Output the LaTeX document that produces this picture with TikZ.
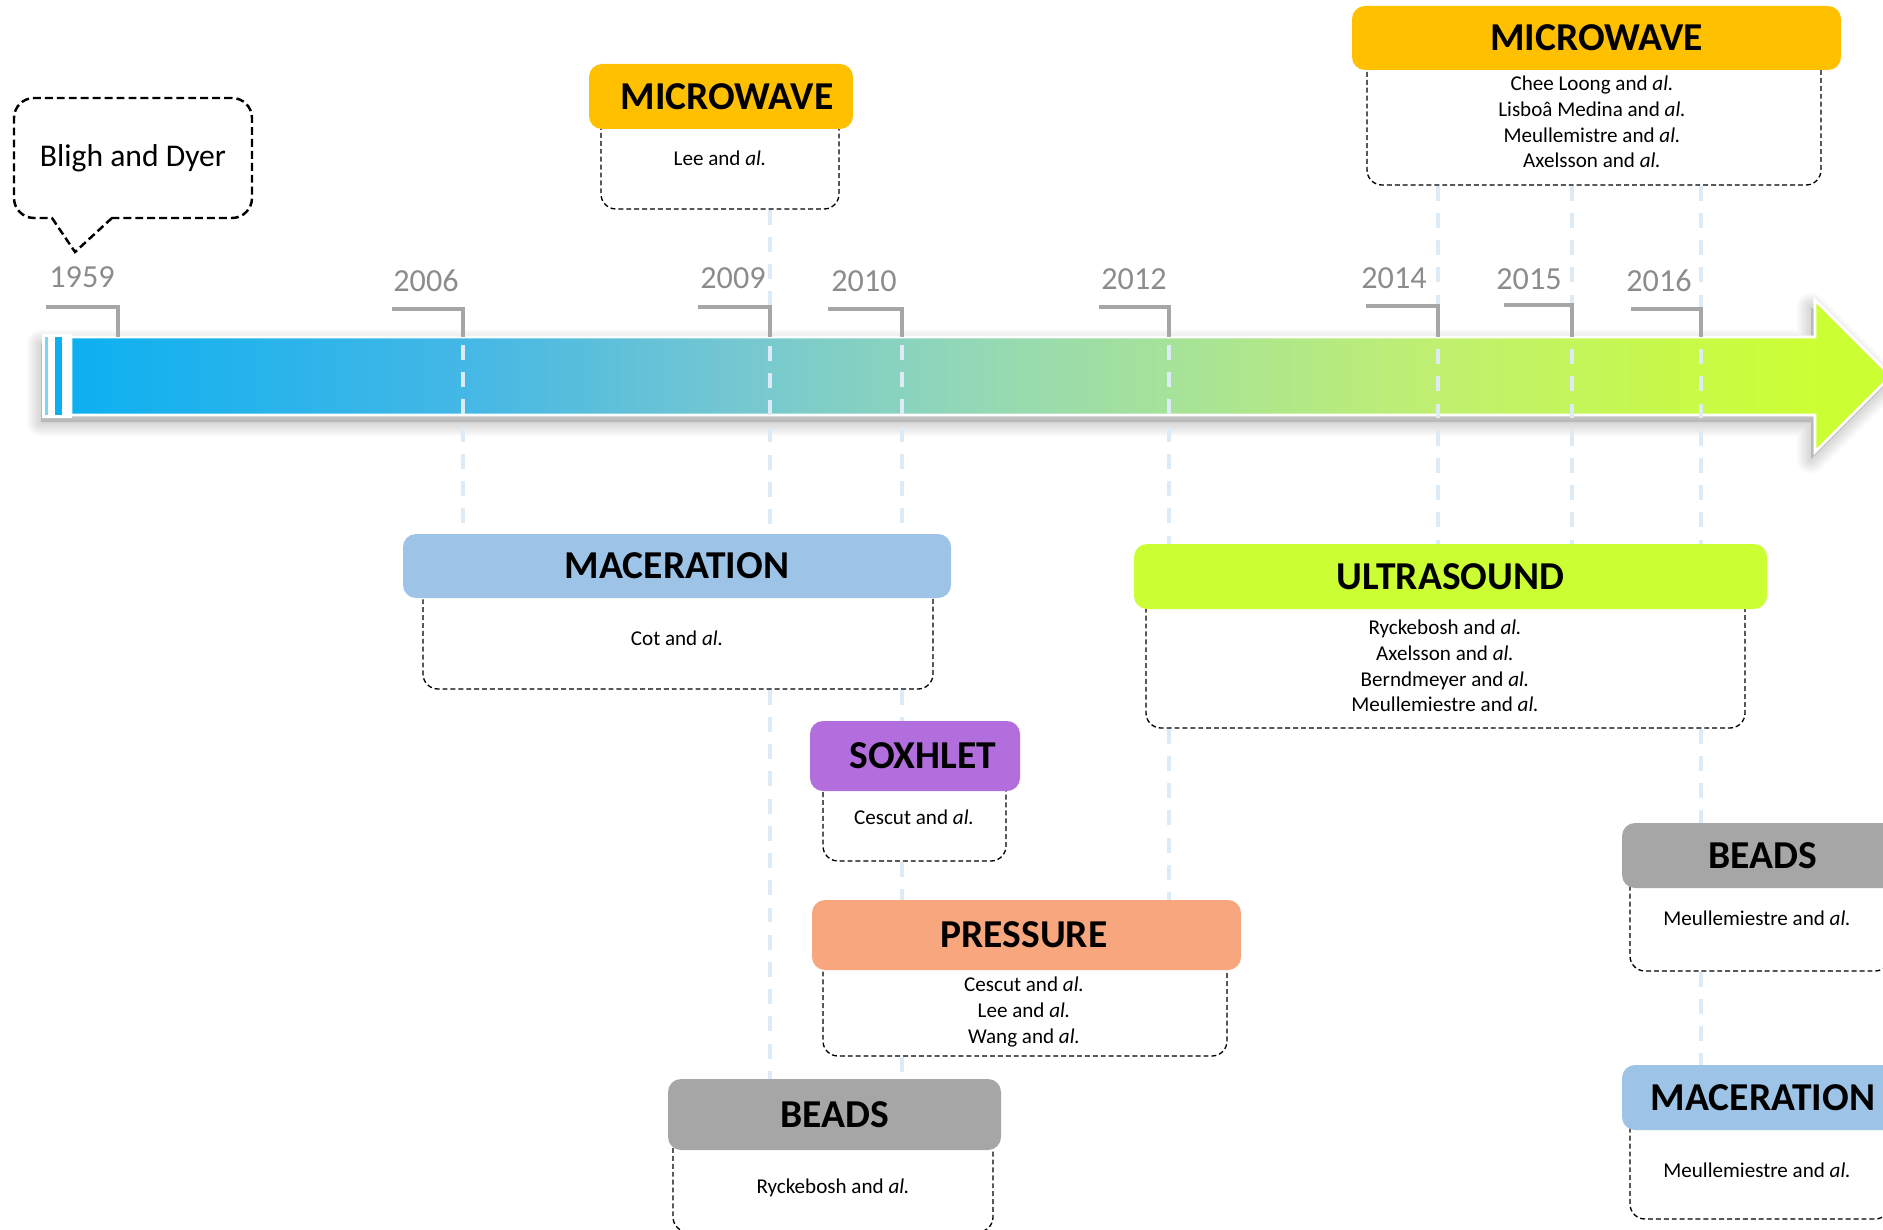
\documentclass[tikz,border=0pt]{standalone}
\usepackage{fontspec}
\setmainfont{Carlito}
\usetikzlibrary{fit}

\definecolor{mwCol}{RGB}{255,192,0}
\definecolor{macCol}{RGB}{157,195,230}
\definecolor{ultraCol}{RGB}{204,255,51}
\definecolor{soxCol}{RGB}{178,110,220}
\definecolor{pressCol}{RGB}{248,166,126}
\definecolor{beadCol}{RGB}{166,166,166}
\definecolor{guideCol}{RGB}{221,235,247}
\definecolor{tickCol}{RGB}{166,166,166}
\definecolor{yearCol}{RGB}{140,140,140}
\definecolor{stripeLight}{RGB}{125,212,245}
\definecolor{stripeDark}{RGB}{12,176,240}

\pgfdeclarehorizontalshading{barShade}{100bp}{rgb(0bp)=(0.05,0.69,0.94); rgb(25bp)=(0.05,0.69,0.94); rgb(36bp)=(0.27,0.72,0.90); rgb(43bp)=(0.45,0.78,0.82); rgb(50bp)=(0.58,0.85,0.71); rgb(62.5bp)=(0.75,0.94,0.44); rgb(73bp)=(0.80,1,0.2); rgb(100bp)=(0.80,1,0.2)}

\newcommand\headFont{\fontsize{22.5}{26}\selectfont\bfseries}
\newcommand\refFont{\fontsize{12}{14.7}\selectfont}
\newcommand\yearFont{\fontsize{18.3}{21}\selectfont}
\newcommand\calloutFont{\fontsize{18}{21}\selectfont}

\begin{document}
\begin{tikzpicture}
[x=0.02cm,y=-0.02cm,%
  headBox/.style={rounded corners=0.26cm,inner sep=0pt},%
  headText/.style={font=\headFont,inner sep=0pt},%
  bodyBox/.style={draw=black,fill=white,line width=0.75pt,dash pattern=on 2.8pt off 1.7pt,rounded corners=0.3cm,inner sep=0pt},%
  refText/.style={align=center,font=\refFont,inner sep=0pt},%
  guideLine/.style={guideCol,line width=2.3pt,dash pattern=on 8.5pt off 7pt},%
  tickLine/.style={tickCol,line width=2.8pt},%
  yearLabel/.style={yearCol,font=\yearFont,inner sep=0pt},%
  calloutLine/.style={line width=1.4pt,dash pattern=on 4.5pt off 2.3pt},%
  calloutBox/.style={calloutLine,draw,rounded corners=0.4cm,inner sep=0pt}]
\useasboundingbox (0,0) rectangle (1883,1230);
\clip (0,0) rectangle (1883,1230);
\def\yearList{1959/46/118/307/82/277, 2006/392/463/309/426/281, 2009/698/770/307/733/278,
  2010/828/902/309/864/281, 2012/1099/1169/307/1134/279, 2014/1366/1438/306/1394/278,
  2015/1504/1572/305/1529/279, 2016/1631/1701/309/1659/281}
%% tick positions
\foreach \yr/\lx/\vx/\ty/\lbx/\lby in \yearList
{
  \coordinate (t\yr) at (\vx,\ty);
}
\coordinate (barTop) at (0,345);
%% shadow of the time arrow
\begin{scope}[shift={(-4,7)}]
\foreach \w in {16,14,...,2}
{
  \filldraw[black,opacity=0.018,line width=\w pt,line join=round]
    (45,337) -- (1815,337) -- (1815,300) -- (1891,376) -- (1815,452) -- (1815,415) -- (45,415) -- cycle;
}
\end{scope}
%% time arrow
\fill[white] (42,334) rectangle (72,418);
\shadedraw[shading=barShade,draw=white,line width=1.5pt]
  (71,337) -- (1815,337) -- (1815,300) -- (1891,376) -- (1815,452) -- (1815,415) -- (71,415) -- cycle;
\fill[stripeLight] (45,337) rectangle (48,415);
\fill[stripeDark] (55,337) rectangle (62,415);
%% callout
\node[calloutBox,fit={(14,98) (252,218)}] (bligh) {};
\node[font=\calloutFont,inner sep=0pt] (blighText) at (bligh.center) {Bligh and Dyer};
\coordinate (blighTip) at (75,252);
\fill[white] (53,214) rectangle (111,222);
\draw[calloutLine] (52,218) -- (blighTip) -- (112,218);
%% headers and bodies
\foreach \nm/\col/\hd/\dx/\hL/\hT/\hR/\hB/\bL/\bR/\bB in {
  mwA/mwCol/MICROWAVE/3.4/589/64/853/129/601/839/209,
  mwB/mwCol/MICROWAVE/0/1352/6/1841/70/1367/1821/185,
  macA/macCol/MACERATION/0/403/534/951/598/423/933/689,
  ultra/ultraCol/ULTRASOUND/0/1134/544/1767/609/1146/1745/728,
  sox/soxCol/SOXHLET/4.5/810/721/1020/791/823/1006/861,
  press/pressCol/PRESSURE/-1.5/812/900/1241/970/823/1227/1056,
  beadA/beadCol/BEADS/0/668/1079/1001/1150/673/993/1232,
  beadB/beadCol/BEADS/0/1622/823/1904/888/1630/1890/971,
  macB/macCol/MACERATION/0/1622/1065/1904/1130/1630/1890/1219}
{
  \node[bodyBox,fit={(\bL,{(\hT+\hB)/2}) (\bR,\bB)}] (\nm-b) {};
  \node[headBox,fill=\col,fit={(\hL,\hT) (\hR,\hB)}] (\nm-h) {};
  \node[headText,xshift=\dx pt] (\nm-l) at (\nm-h.center) {\hd};
}
%% references
\foreach \nm/\x/\y/\refs in {
  mwA/720/158/{Lee and \textit{al.}},
  mwB/1592/122/{Chee Loong and \textit{al.}\\Lisboâ Medina and \textit{al.}\\Meullemistre and \textit{al.}\\Axelsson and \textit{al.}},
  macA/677/638/{Cot and \textit{al.}},
  ultra/1445/666/{Ryckebosh and \textit{al.}\\Axelsson and \textit{al.}\\Berndmeyer and \textit{al.}\\Meullemiestre and \textit{al.}},
  sox/914/817/{Cescut and \textit{al.}},
  press/1024/1012/{Cescut and \textit{al.}\\Lee and \textit{al.}\\Wang and \textit{al.}},
  beadA/833/1188/{Ryckebosh and \textit{al.}},
  beadB/1757/918/{Meullemiestre and \textit{al.}},
  macB/1757/1170/{Meullemiestre and \textit{al.}}}
{
  \node[refText] (\nm-t) at (\x,\y) {\refs};
}
%% dashed guides
\foreach \fromN/\toN/\yr in {
  mwA-b.south/macA-h.north/2009, barTop/macA-h.north/2006, barTop/macA-h.north/2010,
  macA-b.south/beadA-h.north/2009, macA-b.south/sox-h.north/2010, sox-b.south/press-h.north/2010,
  press-b.south/beadA-h.north/2010, barTop/ultra-h.north/2012, ultra-b.south/press-h.north/2012,
  mwB-b.south/ultra-h.north/2014, mwB-b.south/ultra-h.north/2015, mwB-b.south/ultra-h.north/2016,
  ultra-b.south/beadB-h.north/2016, beadB-b.south/macB-h.north/2016}
{
  \draw[guideLine] (\fromN -| t\yr) -- (\toN -| t\yr);
}
%% ticks and years
\foreach \yr/\lx/\vx/\ty/\lbx/\lby in \yearList
{
  \draw[tickLine] (\lx,\ty) -- (t\yr) -- (\vx,337);
  \node[yearLabel] (l\yr) at (\lbx,\lby) {\yr};
}
\end{tikzpicture}
\end{document}
